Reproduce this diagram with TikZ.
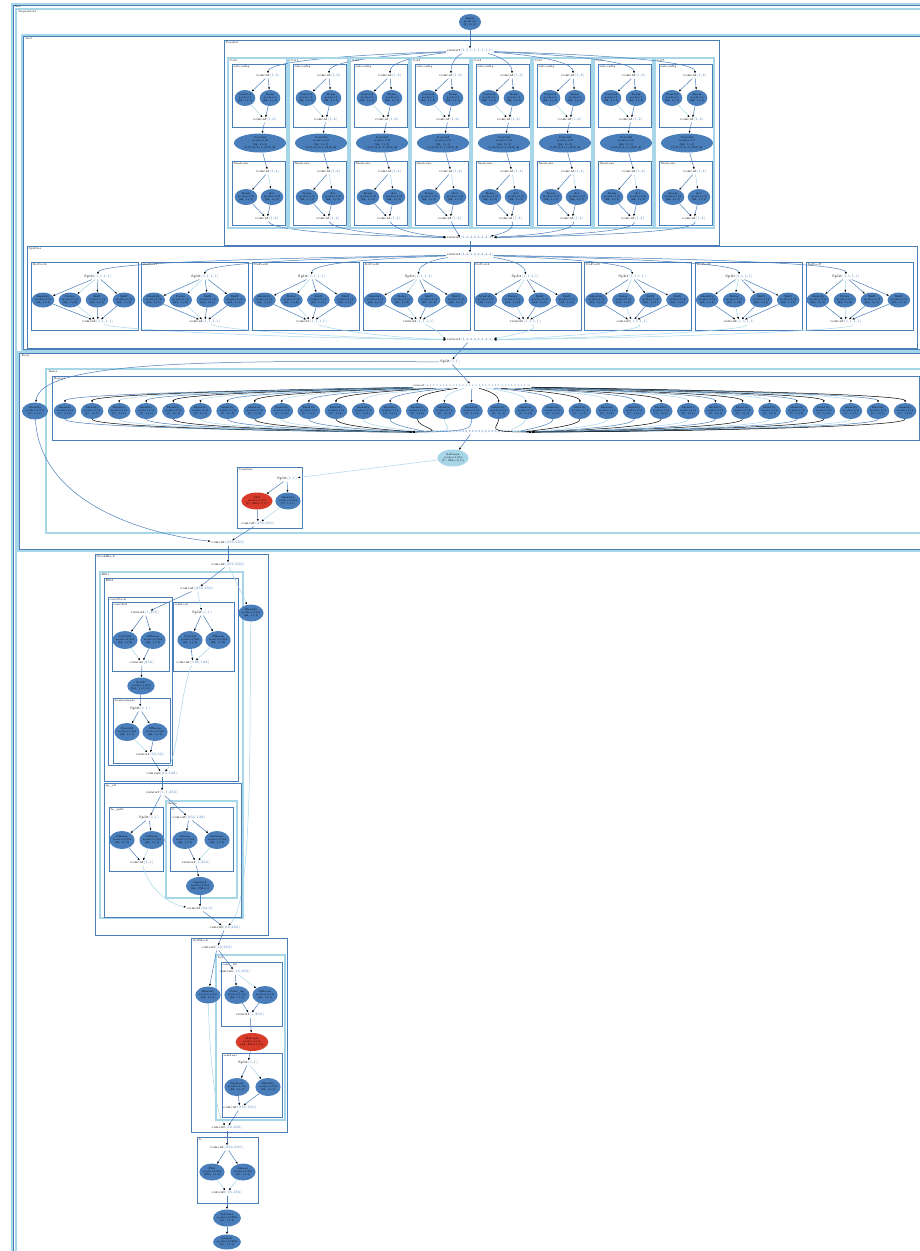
\documentclass[tikz,border=0pt]{standalone}
\usetikzlibrary{shapes.geometric,arrows.meta}
\definecolor{fb}{HTML}{4A7EBB}
\definecolor{lb}{HTML}{A6D6E8}
\definecolor{nb}{HTML}{4A7EBB}
\definecolor{nr}{HTML}{D93B2B}
\definecolor{nl}{HTML}{A6D6E8}
\newcommand{\ccat}[1]{concat\textcolor{fb}{(#1)}}
\newcommand{\splt}[1]{Split\textcolor{fb}{(#1)}}
\tikzset{
 el/.style={ellipse, fill=nb, inner sep=0pt, minimum width=22pt, minimum height=16pt, align=center, font=\fontsize{2.7}{3.3}\selectfont},
 lbl/.style={inner sep=0.6pt, font=\fontsize{3.5}{4}\selectfont},
 fr/.style={draw=fb, line width=0.6pt},
 frl/.style={draw=lb, line width=1.1pt},
 ft/.style={anchor=north west, inner sep=0.4pt, font=\fontsize{2.8}{3.2}\selectfont},
 e/.style={draw=fb, line width=0.5pt, -{Latex[length=2.4pt,width=2pt,color=black]}},
 el2/.style={e, draw=lb},
}
\begin{document}
\begin{tikzpicture}[x=1pt,y=-1pt]
\useasboundingbox (0,0) rectangle (920,1251);
\clip (0,0) rectangle (920,1251);
\fill[white] (0,0) rectangle (920,1251);
% outer frames
\draw[frl] (12,4) rectangle (930,1260);
\draw[fr] (13.6,5.6) rectangle (930,1260);
\node[ft] (tnet) at (14,5) {Net};
\draw[frl] (16,9) rectangle (930,1260);
\node[ft] (tseq) at (18,10) {Sequential};
\draw[frl] (22,35) rectangle (930,350);
\draw[fr] (23.5,36.5) rectangle (930,349);
\node[ft] (tsect) at (25,37) {Sect};
% input
\node[el] (in) at (470,22) {Input\\ scale=1\\ {[}3, 1+1]};
% Parallel
\draw[fr] (224,40) rectangle (719,245);
\node[ft] (tpar) at (225,41) {Parallel};
\node[lbl] (pc0) at (470,51) {\ccat{1,1,1,1,1,1,1,1}};
\node[lbl] (pc1) at (470,238) {\ccat{4,4,4,4,4,4,4,4}};
\draw[e] (in) -- (pc0);
\foreach \i in {0,...,7}{
 \pgfmathsetmacro{\L}{228+61*\i}
 \pgfmathsetmacro{\mx}{(470+\L+40)/2}
 \pgfmathsetmacro{\my}{(470+\L+39)/2}
 \draw[frl] (\L,58) rectangle ++(59,170);
 \node[ft] (colt\i) at (\L+1,59) {Col\i};
 \draw[fr] (\L+4,64) rectangle ++(53,63);
 \node[ft] (sct\i) at (\L+5,65) {subconfig};
 \node[lbl] (ca\i) at (\L+40,76) {\ccat{1,2}};
 \node[el,minimum width=20pt] (ea\i) at (\L+17,98) {Conv1d\\ scale=1\\ {[}64, 1+1]};
 \node[el,minimum width=20pt] (eb\i) at (\L+42,98) {Norm\\ scale=1\\ {[}64, 1+1]};
 \node[lbl] (cb\i) at (\L+37,120) {\ccat{1,2}};
 \node[el,minimum width=52pt,minimum height=19pt] (big\i) at (\L+32,143) {Conv2d\\ scale=1/2\\ {[}64, 1+1]\\ {[}1/2,(5,5),1,(2,2),2{]}};
 \draw[fr] (\L+4,161) rectangle ++(53,64);
 \node[ft] (fct\i) at (\L+5,162) {finalconv};
 \node[lbl] (cc\i) at (\L+40,172) {\ccat{1,4}};
 \node[el,minimum width=20pt] (ec\i) at (\L+18,197) {Norm\\ scale=1/2\\ {[}64, 1+1]};
 \node[el,minimum width=20pt] (ed\i) at (\L+44,197) {Act\\ scale=1/2\\ {[}64, 1+1]};
 \node[lbl] (cd\i) at (\L+39,219) {\ccat{1,4}};
 \draw[e] (pc0) .. controls (\mx,54) and (\L+40,60) .. (ca\i);
 \draw[e] (ca\i) -- (ea\i);
 \draw[e] (ca\i) -- (eb\i);
 \draw[el2] (ea\i) -- (cb\i);
 \draw[e] (eb\i) -- (cb\i);
 \draw[e] (cb\i) -- (big\i);
 \draw[e] (big\i) -- (cc\i);
 \draw[e] (cc\i) -- (ec\i);
 \draw[el2] (cc\i) -- (ed\i);
 \draw[e] (ec\i) -- (cd\i);
 \draw[e] (ed\i) -- (cd\i);
 \draw[e] (cd\i) .. controls (\L+45,232) and (\my,236) .. (pc1);
}
% Splitter
\draw[fr] (27,246) rectangle (917,348);
\node[ft] (tspl) at (28,247) {Splitter};
\node[lbl] (sc0) at (470,255) {\ccat{4,4,4,4,4,4,4,4}};
\node[lbl] (sc1) at (470,340) {\ccat{4,4,4,4,4,4,4,4}};
\draw[e] (pc1) -- (sc0);
\foreach \j in {0,...,7}{
 \pgfmathsetmacro{\L}{31+110.7*\j}
 \pgfmathsetmacro{\o}{67-27*\j/7}
 \pgfmathsetmacro{\X}{\L+\o}
 \pgfmathsetmacro{\mx}{(470+\X)/2}
 \draw[fr] (\L,262) rectangle ++(107,68);
 \node[ft] (dpt\j) at (\L+1,263) {DoPool\j};
 \node[lbl] (sp\j) at (\X,277) {\splt{1,1,1,1}};
 \node[lbl] (sq\j) at (\X,322) {\ccat{1,1,1,1}};
 \node[el,minimum height=15pt] (sa\j) at (\L+12,300) {Identity\\ scale=1/4\\ {[}64, 1+1]};
 \node[el,minimum height=15pt] (sb\j) at (\L+39,300) {Delay\\ scale=1/4\\ {[}64, 1+2]};
 \node[el,minimum height=15pt] (sd\j) at (\L+66,300) {Shift\\ scale=1/4\\ {[}64, 1+1]};
 \node[el,minimum height=15pt] (se\j) at (\L+93,300) {Shift\\ scale=1/4\\ {[}64, 1+1]};
 \draw[e] (sc0) .. controls (\mx,258) and (\X,262) .. (sp\j);
 \draw[e] (sp\j) -- (sa\j);
 \draw[el2] (sp\j) -- (sb\j);
 \draw[e] (sp\j) -- (sd\j);
 \draw[e] (sp\j) -- (se\j);
 \draw[e] (sa\j) -- (sq\j);
 \draw[el2] (sb\j) -- (sq\j);
 \draw[e] (sd\j) -- (sq\j);
 \draw[e] (se\j) -- (sq\j);
 \draw[el2] (sq\j) .. controls (\X+20,330) and (\mx,338) .. (sc1);
}
% Pool
\draw[frl] (18,352) rectangle (930,551);
\draw[fr] (19.5,353.5) rectangle (930,549.5);
\node[ft] (tpool) at (21,354) {Pool};
\node[lbl] (spl) at (450,362) {\splt{1,1}};
\draw[e] (sc1) -- (spl);
\draw[frl] (46,369) rectangle (930,533);
\node[ft] (tinner) at (48,370) {Inner};
\draw[fr] (52,376) rectangle (919,440);
\node[ft] (trep) at (53,377) {Repeat};
\node[lbl,font=\fontsize{3}{3.5}\selectfont] (rc0) at (472,386) {\ccat{1,1,1,1,1,1,1,1,1,1,1,1,1,1,1,1,1,1,1,1,1,1,1,1,1,1,1,1,1,1,1,1}};
\node[lbl,font=\fontsize{3}{3.5}\selectfont] (rc1) at (472,432) {\ccat{8,8,8,8,8,8,8,8,8,8,8,8,8,8,8,8,8,8,8,8,8,8,8,8,8,8,8,8,8,8,8,8}};
\draw[e] (spl) -- (rc0);
\foreach \k in {0,...,31}{
 \pgfmathsetmacro{\X}{65+27.1*\k}
 \pgfmathsetmacro{\ca}{472+(\X-472)*0.35}
 \pgfmathtruncatemacro{\m}{mod(\k,3)}
 \ifcase\m \def\ec{fb}\or\def\ec{black}\or\def\ec{lb}\fi
 \node[el] (r\k) at (\X,411) {Identity\\ scale=1/4\\ {[}C, 1+1]};
 \draw[e,draw=\ec] (rc0) .. controls (\ca,389) and (\X,393) .. (r\k);
 \draw[e,draw=\ec] (r\k) .. controls (\X,428) and (\ca,432) .. (rc1);
}
\node[el,minimum width=26pt,minimum height=17pt] (idp) at (35,411) {Identity\\ scale=1/16\\ {[}C, 1+1]};
\draw[e] (spl) .. controls (200,360) and (40,362) .. (idp);
\node[el,fill=nl,minimum width=30pt,minimum height=17pt] (soft) at (453,458) {Softmax\\ scale=1/64\\ {[}C, 256+1(1)]};
\draw[e] (rc1) -- (soft);
\draw[fr] (237,467) rectangle (302,528);
\node[ft] (tcomb) at (238,468) {Combine};
\node[lbl] (cs) at (287,479) {\splt{1,1}};
\node[el,fill=nr,minimum width=30pt,minimum height=17pt] (red1) at (257,501) {Mul\\ scale=1/64\\ {[}C, 256+1(1)]};
\node[el,minimum height=17pt] (blu1) at (288,501) {Identity\\ scale=1/64\\ {[}C, 1+1]};
\node[lbl] (ccm) at (258,524) {\ccat{256,256}};
\draw[el2] (soft) -- (cs);
\draw[e] (cs) -- (red1);
\draw[e] (cs) -- (blu1);
\draw[e] (red1) -- (ccm);
\draw[el2] (blu1) -- (ccm);
\node[lbl] (pc) at (228,543) {\ccat{256,256}};
\draw[e] (ccm) -- (pc);
\draw[e] (idp) .. controls (40,505) and (150,535) .. (pc);
% StackBlock
\draw[fr] (95,554) rectangle (268,935);
\node[ft] (tsb) at (96,555) {StackBlock};
\node[lbl] (bc0) at (228,565) {\ccat{256,256}};
\draw[e] (pc) -- (bc0);
\draw[frl] (100,572) rectangle (243,918);
\node[ft] (tb1) at (101,573) {Blk1};
\draw[fr] (104,578) rectangle (238,781);
\node[ft] (tb2) at (105,579) {Blk2};
\node[lbl] (b2c0) at (197,589) {\ccat{256,256}};
\node[el,minimum width=25pt,minimum height=17pt] (idb) at (251,613) {Identity\\ scale=1/64\\ {[}64, 1+1]};
\draw[fr] (108,597) rectangle (172,765);
\node[ft] (tcb) at (109,598) {convblock};
\draw[fr] (112,602) rectangle (169,671);
\node[ft] (tc3) at (113,603) {conv3x3};
\node[lbl] (c3a) at (145,613) {\ccat{1,256}};
\node[el,minimum height=18pt] (c3e1) at (125,640) {Conv2d\\ scale=1/64\\ {[}64, 1+2]};
\node[el,minimum height=18pt] (c3e2) at (153,640) {BNorm\\ scale=1/64\\ {[}64, 1+1]};
\node[lbl] (c3b) at (142,663) {\ccat{256}};
\node[el,minimum width=26pt,minimum height=17pt] (mid) at (141,686) {ReLU\\ scale=1/64\\ {[}64, 1+1(1)]};
\draw[fr] (113,698) rectangle (170,763);
\node[ft] (tds) at (114,699) {downsample};
\node[lbl] (ds) at (140,709) {\splt{1,1}};
\node[el,minimum height=18pt] (dse1) at (127,732) {Conv2d\\ scale=1/64\\ {[}64, 1+1]};
\node[el,minimum height=18pt] (dse2) at (155,732) {BNorm\\ scale=1/64\\ {[}64, 1+1]};
\node[lbl] (dc) at (150,755) {\ccat{32,32}};
\draw[fr] (173,602) rectangle (234,671);
\node[ft] (trb) at (174,603) {resblock};
\node[lbl] (rs) at (202,613) {\splt{1,1}};
\node[el,minimum height=18pt] (rse1) at (190,640) {Conv2d\\ scale=1/64\\ {[}64, 1+1]};
\node[el,minimum height=18pt] (rse2) at (218,640) {BNorm\\ scale=1/64\\ {[}64, 1+2]};
\node[lbl] (rcn) at (193,663) {\ccat{128,128}};
\node[lbl] (b2c1) at (162,774) {\ccat{64,128}};
\node[lbl] (bc1) at (225,928) {\ccat{64,256}};
\draw[e] (bc0) -- (b2c0);
\draw[el2] (bc0) -- (idb);
\draw[el2] (idb) .. controls (249,720) and (254,905) .. (bc1);
\draw[e] (b2c0) -- (c3a);
\draw[el2] (b2c0) -- (rs);
\draw[e] (c3a) -- (c3e1);
\draw[e] (c3a) -- (c3e2);
\draw[el2] (c3e1) -- (c3b);
\draw[e] (c3e2) -- (c3b);
\draw[e] (c3b) -- (mid);
\draw[e] (mid) -- (ds);
\draw[e] (ds) -- (dse1);
\draw[e] (ds) -- (dse2);
\draw[el2] (dse1) -- (dc);
\draw[e] (dse2) -- (dc);
\draw[e] (dc) -- (b2c1);
\draw[e] (rs) -- (rse1);
\draw[e] (rs) -- (rse2);
\draw[e] (rse1) -- (rcn);
\draw[el2] (rse2) -- (rcn);
\draw[el2] (rcn) .. controls (180,690) and (178,760) .. (b2c1);
% Blk3
\draw[fr] (104,783) rectangle (241,917);
\node[ft] (tsa) at (105,784) {sp\_att};
\node[lbl] (b3c0) at (162,793) {\ccat{1,1,256}};
\draw[fr] (109,807) rectangle (163,871);
\node[ft] (tln) at (110,808) {ln\_split};
\node[lbl] (ls) at (149,818) {\splt{1,1}};
\node[el,minimum height=18pt] (lse1) at (122,840) {LNorm\\ scale=1/64\\ {[}64, 1+1]};
\node[el,minimum height=18pt] (lse2) at (152,840) {LNorm\\ scale=1/64\\ {[}64, 1+1]};
\node[lbl] (lc) at (142,863) {\ccat{1,1}};
\draw[frl] (166,801) rectangle (237,898);
\node[ft] (tsh) at (167,802) {shape};
\draw[fr] (170,807) rectangle (233,871);
\node[ft] (tfc) at (171,808) {fc};
\node[lbl] (fs) at (189,818) {\ccat{256,128}};
\node[el,minimum height=18pt] (fse1) at (185,840) {Linear\\ scale=1/64\\ {[}64, 1+1]};
\node[el,minimum height=18pt] (fse2) at (217,840) {Reshape\\ scale=1/64\\ {[}64, 1+1]};
\node[lbl] (fcc) at (196,863) {\ccat{1,256}};
\node[el,minimum width=28pt,minimum height=18pt] (fel) at (200,886) {Sigmoid\\ scale=1/64\\ {[}64, 256+1]};
\node[lbl] (b3c1) at (200,909) {\ccat{64,2}};
\draw[e] (b2c1) -- (b3c0);
\draw[e] (b3c0) -- (ls);
\draw[e] (b3c0) -- (fs);
\draw[e] (ls) -- (lse1);
\draw[e] (ls) -- (lse2);
\draw[e] (lse1) -- (lc);
\draw[el2] (lse2) -- (lc);
\draw[el2] (lc) .. controls (150,892) and (172,905) .. (b3c1);
\draw[e] (fs) -- (fse1);
\draw[e] (fs) -- (fse2);
\draw[e] (fse1) -- (fcc);
\draw[el2] (fse2) -- (fcc);
\draw[e] (fcc) -- (fel);
\draw[e] (fel) -- (b3c1);
\draw[e] (b3c1) -- (bc1);
% ActBlock
\draw[fr] (191,938) rectangle (287,1132);
\node[ft] (tab) at (192,939) {ActBlock};
\node[lbl] (ac0) at (217,948) {\ccat{16,256}};
\draw[e] (bc1) -- (ac0);
\draw[frl] (216,955) rectangle (285,1120);
\node[ft] (tly) at (217,956) {Lyr};
\node[el,minimum width=25pt,minimum height=17pt] (ida) at (208,995) {Identity\\ scale=1/16\\ {[}64, 1+1]};
\draw[fr] (221,962) rectangle (282,1026);
\node[ft] (tcv) at (222,963) {conv\_32};
\node[lbl] (cc0) at (235,972) {\ccat{16,256}};
\node[el,minimum height=18pt] (cve1) at (237,995) {Conv\_up\\ scale=1/16\\ {[}64, 1+1]};
\node[el,minimum height=18pt] (cve2) at (265,995) {BNorm\\ scale=1/16\\ {[}64, 1+1]};
\node[lbl] (cc1) at (250,1015) {\ccat{1,256}};
\node[el,fill=nr,minimum width=30pt,minimum height=18pt] (red2) at (252,1042) {Multiply\\ scale=1/16\\ {[}64, 256+1(1)]};
\draw[fr] (222,1053) rectangle (282,1117);
\node[ft] (tres) at (223,1054) {residual};
\node[lbl] (ss) at (248,1063) {\splt{1,1}};
\node[el,minimum height=18pt] (sse1) at (237,1087) {Sigmoid\\ scale=1/16\\ {[}64, 1+1]};
\node[el,minimum height=18pt] (sse2) at (268,1087) {Identity\\ scale=1/16\\ {[}64, 1+1]};
\node[lbl] (scn) at (240,1108) {\ccat{256,256}};
\node[lbl] (ac1) at (227,1128) {\ccat{32,256}};
\draw[e] (ac0) -- (cc0);
\draw[e] (ac0) -- (ida);
\draw[el2] (ida) .. controls (210,1060) and (215,1112) .. (ac1);
\draw[e] (cc0) -- (cve1);
\draw[el2] (cc0) -- (cve2);
\draw[e] (cve1) -- (cc1);
\draw[e] (cve2) -- (cc1);
\draw[e] (cc1) -- (red2);
\draw[e] (red2) -- (ss);
\draw[e] (ss) -- (sse1);
\draw[el2] (ss) -- (sse2);
\draw[e] (sse1) -- (scn);
\draw[e] (sse2) -- (scn);
\draw[e] (scn) -- (ac1);
% Tail
\draw[fr] (197,1137) rectangle (258,1203);
\node[ft] (ttl) at (198,1138) {fc};
\node[lbl] (tc0) at (227,1148) {\ccat{256,256}};
\node[el,minimum width=25pt,minimum height=17pt] (tle1) at (212,1172) {Flat\\ scale=1/64\\ {[}256, 1+1]};
\node[el,minimum width=25pt,minimum height=17pt] (tle2) at (243,1172) {Linear\\ scale=1/64\\ {[}10, 1+1]};
\node[lbl] (tc1) at (227,1193) {\ccat{16,256}};
\node[el,minimum width=24pt,minimum height=17pt] (o1) at (227,1218) {Softmax\\ scale=1/256\\ {[}10, 1+1]};
\node[el,minimum width=22pt,minimum height=15pt] (o2) at (227,1242) {Output\\ scale=1/256\\ {[}10, 1+1]};
\draw[e] (ac1) -- (tc0);
\draw[e] (tc0) -- (tle1);
\draw[e] (tc0) -- (tle2);
\draw[el2] (tle1) -- (tc1);
\draw[el2] (tle2) -- (tc1);
\draw[e] (tc1) -- (o1);
\draw[e] (o1) -- (o2);
\end{tikzpicture}
\end{document}
